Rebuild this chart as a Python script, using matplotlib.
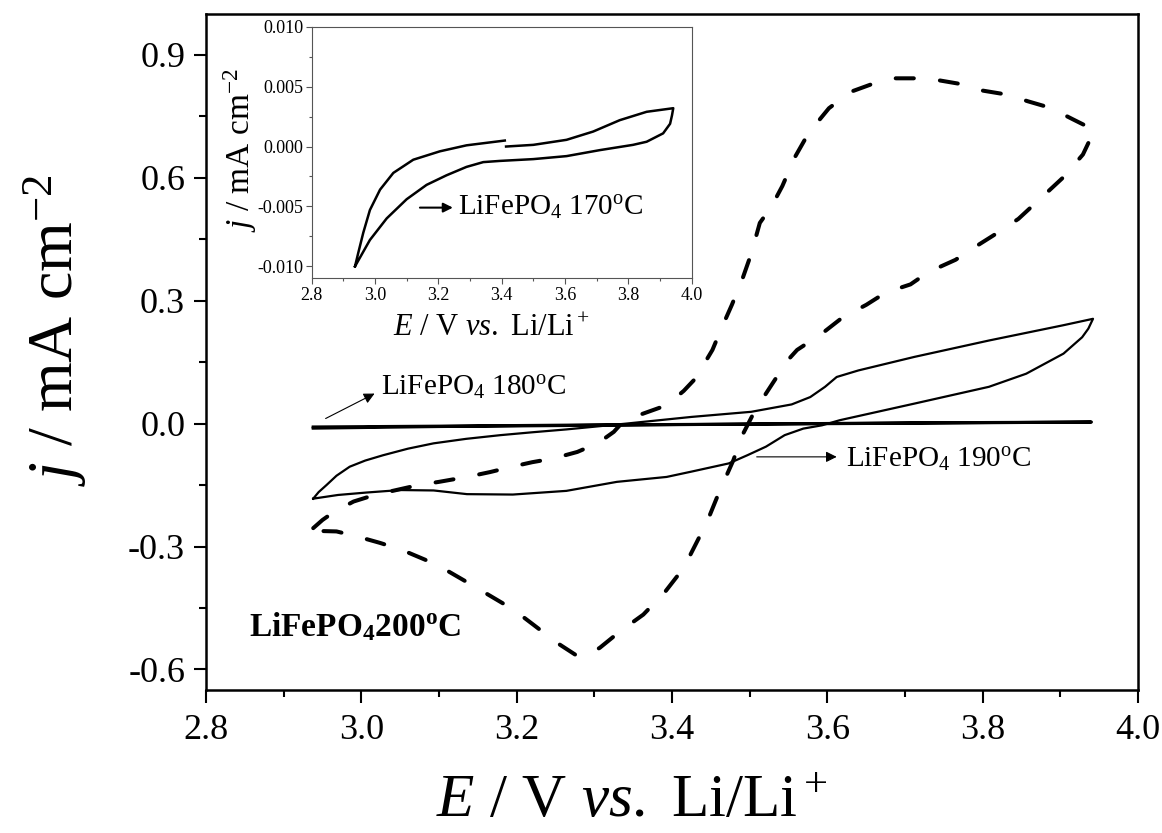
import matplotlib
matplotlib.use("Agg")
import matplotlib.pyplot as plt
from matplotlib.ticker import MultipleLocator, FormatStrFormatter

plt.rcParams['font.family'] = 'Liberation Serif'
plt.rcParams['mathtext.fontset'] = 'custom'
plt.rcParams['mathtext.rm'] = 'Liberation Serif'
plt.rcParams['mathtext.it'] = 'Liberation Serif:italic'
plt.rcParams['mathtext.bf'] = 'Liberation Serif:bold'
plt.rcParams['axes.unicode_minus'] = False

# LiFePO4 200 C (dashed), one full cycle starting at the low-potential tip
E200 = [2.938, 2.950, 2.965, 2.990, 3.017, 3.045, 3.073, 3.100, 3.136, 3.166, 3.194,
        3.220, 3.247, 3.278, 3.305, 3.325, 3.337, 3.359, 3.393, 3.415, 3.430, 3.452,
        3.463, 3.477, 3.490, 3.502, 3.513, 3.528, 3.542, 3.558, 3.576, 3.602, 3.630,
        3.659, 3.688, 3.717, 3.744, 3.775, 3.800, 3.832, 3.858, 3.887, 3.916, 3.935,
        3.944, 3.936, 3.929, 3.903, 3.878, 3.846, 3.820, 3.789, 3.765, 3.730, 3.707,
        3.675, 3.650, 3.620, 3.593, 3.561, 3.549, 3.530, 3.507, 3.490, 3.479, 3.460,
        3.445, 3.430, 3.415, 3.390, 3.363, 3.333, 3.307, 3.290, 3.278, 3.252, 3.221,
        3.196, 3.163, 3.138, 3.108, 3.082, 3.052, 3.024, 2.994, 2.968, 2.948, 2.938]
j200 = [-0.255, -0.235, -0.215, -0.190, -0.174, -0.162, -0.150, -0.142, -0.130, -0.118, -0.105,
        -0.094, -0.085, -0.069, -0.047, -0.020, 0.005, 0.022, 0.045, 0.080, 0.110, 0.180,
        0.230, 0.290, 0.350, 0.415, 0.490, 0.530, 0.580, 0.650, 0.710, 0.770, 0.810,
        0.830, 0.843, 0.843, 0.838, 0.828, 0.813, 0.803, 0.787, 0.771, 0.743, 0.725,
        0.712, 0.685, 0.657, 0.600, 0.556, 0.500, 0.467, 0.430, 0.400, 0.370, 0.340,
        0.320, 0.290, 0.260, 0.220, 0.180, 0.155, 0.100, 0.033, -0.030, -0.089, -0.170,
        -0.240, -0.296, -0.352, -0.413, -0.466, -0.507, -0.547, -0.566, -0.567, -0.535, -0.490,
        -0.454, -0.417, -0.389, -0.356, -0.332, -0.308, -0.291, -0.275, -0.263, -0.262, -0.255]

# LiFePO4 190 C (solid loop)
E190 = [2.938, 2.945, 2.955, 2.968, 2.985, 3.005, 3.028, 3.060, 3.093, 3.135, 3.179,
        3.220, 3.264, 3.340, 3.425, 3.502, 3.554, 3.578, 3.597, 3.612, 3.640, 3.712,
        3.808, 3.903, 3.942,
        3.936, 3.928, 3.904, 3.856, 3.808, 3.712, 3.616, 3.593, 3.569, 3.545, 3.521,
        3.497, 3.473, 3.425, 3.393, 3.329, 3.264, 3.195, 3.136, 3.093, 3.050, 3.007,
        2.970, 2.938]
j190 = [-0.183, -0.167, -0.150, -0.127, -0.105, -0.090, -0.077, -0.061, -0.048, -0.037, -0.028,
        -0.021, -0.014, 0.000, 0.0165, 0.029, 0.047, 0.065, 0.090, 0.114, 0.130, 0.163,
        0.203, 0.240, 0.256,
        0.232, 0.211, 0.171, 0.122, 0.090, 0.049, 0.0085, -0.004, -0.012, -0.028, -0.056,
        -0.077, -0.097, -0.117, -0.130, -0.142, -0.164, -0.173, -0.172, -0.163, -0.162, -0.168,
        -0.174, -0.183]

# LiFePO4 180 C (thin loop around zero)
E180 = [2.938, 3.100, 3.300, 3.500, 3.700, 3.940, 3.700, 3.500, 3.300, 3.100, 2.938]
j180 = [-0.008, -0.006, -0.003, -0.001, 0.001, 0.004, 0.002, -0.001, -0.004, -0.007, -0.011]

# LiFePO4 170 C (inset)
E170 = [2.937, 2.947, 2.963, 2.984, 3.016, 3.058, 3.121, 3.205, 3.289, 3.410, None,
        3.414, 3.500, 3.605, 3.689, 3.773, 3.858, 3.942,
        3.938, 3.932, 3.910, 3.858, 3.815, 3.710, 3.605, 3.500, 3.395, 3.342, 3.289, 3.226,
        3.163, 3.100, 3.037, 2.984, 2.937]
j170 = [-0.0100, -0.0089, -0.0072, -0.0053, -0.0036, -0.0022, -0.0011, -0.0004, 0.0001, 0.0005, None,
        0.0000, 0.00014, 0.00056, 0.00125, 0.0022, 0.0029, 0.0032,
        0.0026, 0.0019, 0.0011, 0.0004, 0.00014, -0.0003, -0.0008, -0.00105, -0.0012, -0.0013, -0.0017, -0.0024,
        -0.0032, -0.0044, -0.0060, -0.0078, -0.0100]

fig = plt.figure(figsize=(11.62, 8.33), dpi=100)
ax = fig.add_axes([0.1773, 0.1717, 0.8021, 0.8115])

ax.plot(E200, j200, color='k', lw=2.9, linestyle=(0, (4.5, 6.5)), dash_capstyle='round')
ax.plot(E190, j190, color='k', lw=1.6)
ax.plot(E180, j180, color='k', lw=2.2)

ax.set_xlim(2.8, 4.0)
ax.set_ylim(-0.65, 1.0)
ax.xaxis.set_major_locator(MultipleLocator(0.2))
ax.xaxis.set_minor_locator(MultipleLocator(0.1))
ax.yaxis.set_major_locator(MultipleLocator(0.3))
ax.yaxis.set_minor_locator(MultipleLocator(0.15))
ax.xaxis.set_major_formatter(FormatStrFormatter('%.1f'))
ax.yaxis.set_major_formatter(FormatStrFormatter('%.1f'))
ax.tick_params(which='both', direction='out', top=False, right=False, width=1.5)
ax.tick_params(which='major', length=9, labelsize=26)
ax.tick_params(which='minor', length=5)
ax.tick_params(axis='x', which='major', pad=8)
ax.tick_params(axis='y', which='major', pad=6)
for s in ax.spines.values():
    s.set_linewidth(1.8)

ax.set_xlabel(r'$E$ / V $vs.$ Li/Li$^+$', fontsize=44, va='bottom')
ax.xaxis.set_label_coords(0.457, -0.2075)
ax.set_ylabel(r'$j$ / mA cm$^{-2}$', fontsize=46, va='center')
ax.yaxis.set_label_coords(-0.162, 0.533)

arrow = dict(arrowstyle='-|>', color='k', lw=0.8, mutation_scale=16, shrinkA=0, shrinkB=0)
ax.annotate('', xy=(3.017, 0.0735), xytext=(2.954, 0.0126), arrowprops=arrow)
ax.text(3.025, 0.069, r'LiFePO$_4$ 180$^{\rm o}$C', fontsize=21, va='baseline')
ax.annotate('', xy=(3.612, -0.081), xytext=(3.509, -0.081), arrowprops=arrow)
ax.text(3.624, -0.108, r'LiFePO$_4$ 190$^{\rm o}$C', fontsize=21, va='baseline')
ax.text(2.855, -0.519, r'LiFePO$_\mathbf{4}$200$^\mathbf{o}$C', fontsize=24,
        fontweight='bold', va='baseline')

# inset
axi = fig.add_axes([0.2682, 0.6659, 0.3270, 0.3020])
axi.plot(E170, j170, color='k', lw=1.8)
axi.set_xlim(2.8, 4.0)
axi.set_ylim(-0.011, 0.010)
axi.xaxis.set_major_locator(MultipleLocator(0.2))
axi.xaxis.set_minor_locator(MultipleLocator(0.1))
axi.yaxis.set_major_locator(MultipleLocator(0.005))
axi.yaxis.set_minor_locator(MultipleLocator(0.0025))
axi.xaxis.set_major_formatter(FormatStrFormatter('%.1f'))
axi.yaxis.set_major_formatter(FormatStrFormatter('%.3f'))
axi.tick_params(which='both', direction='out', top=False, right=False,
                width=0.8, color='#555555', labelsize=13, pad=2)
axi.tick_params(which='major', length=4)
axi.tick_params(which='minor', length=2.5)
for s in axi.spines.values():
    s.set_linewidth(0.8)
    s.set_color('#555555')
axi.set_xlabel(r'$E$ / V $vs.$ Li/Li$^+$', fontsize=22, va='baseline')
axi.xaxis.set_label_coords(0.474, -0.229)
axi.set_ylabel(r'$j$ / mA cm$^{-2}$', fontsize=24, va='center')
axi.yaxis.set_label_coords(-0.189, 0.51)
axi.annotate('', xy=(3.246, -0.0051), xytext=(3.142, -0.0051),
             arrowprops=dict(arrowstyle='-|>', color='k', lw=1.5, mutation_scale=14,
                             shrinkA=0, shrinkB=0))
axi.text(3.262, -0.0058, r'LiFePO$_4$ 170$^{\rm o}$C', fontsize=21, va='baseline')

fig.savefig('out.png', dpi=100)
